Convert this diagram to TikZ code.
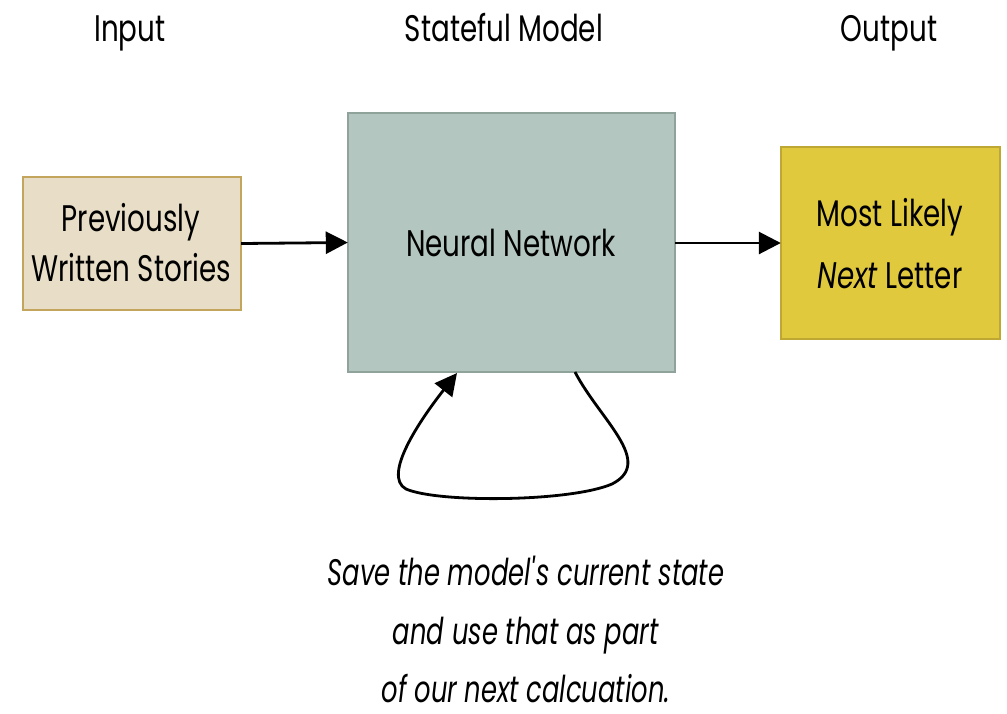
\documentclass[tikz,border=0pt]{standalone}
\usepackage{fontspec}
\usepackage{graphicx}
\setmainfont{Poppins}[FakeStretch=0.75]
\usetikzlibrary{arrows.meta}
\definecolor{inFill}{HTML}{E8DEC7}
\definecolor{inLine}{HTML}{C3A65C}
\definecolor{nnFill}{HTML}{B3C7C0}
\definecolor{nnLine}{HTML}{8FA39B}
\definecolor{outFill}{HTML}{E1C93E}
\definecolor{outLine}{HTML}{BFA734}
\newcommand{\noteline}[1]{\scalebox{0.93}[1]{\textit{#1}}}
\begin{document}
\begin{tikzpicture}[x=1pt,y=-1pt,
  lbl/.style={font=\fontsize{37}{50}\selectfont, align=center, inner sep=0pt},
  flow/.style={line width=2.8pt, -{Triangle[length=22pt,width=22pt]}},
  box/.style={line width=2pt, inner sep=0pt}]
\useasboundingbox (0,0) rectangle (1007,713);
% boxes
\path[box, fill=inFill, draw=inLine] (23,177) rectangle (241,310);
\path[box, fill=nnFill, draw=nnLine] (348,113) rectangle (675,372);
\path[box, fill=outFill, draw=outLine] (781,147) rectangle (1000,339);
\node (inp) [minimum width=218pt, minimum height=133pt, inner sep=0pt] at (132,243.5) {};
\node (nn) [minimum width=327pt, minimum height=259pt, inner sep=0pt] at (511.5,242.5) {};
\node (out) [minimum width=219pt, minimum height=192pt, inner sep=0pt] at (890.5,243) {};
% texts
\node[lbl, anchor=base] at (131,231) {Previously};
\node[lbl, anchor=base] at (131,281) {Written Stories};
\node[lbl, anchor=base] at (511,256) {Neural Network};
\node[lbl, anchor=base] at (890,226) {Most Likely};
\node[lbl, anchor=base] at (890,288) {\textit{Next} Letter};
\node[lbl, anchor=base] at (130,41) {Input};
\node[lbl, anchor=base] at (504,41) {Stateful Model};
\node[lbl, anchor=base] at (889,41) {Output};
\node[lbl, anchor=base] at (526,585) {\noteline{Save the model\textquotesingle s current state}};
\node[lbl, anchor=base] at (526,644) {\noteline{and use that as part}};
\node[lbl, anchor=base] at (526,702) {\noteline{of our next calcuation.}};
% connectors
\draw[flow] (inp.east) -- (nn.west);
\draw[flow] (nn.east |- 0,243) -- (out.west |- 0,243);
\coordinate (loopA) at (575,372);
\coordinate (loopB) at (457,373);
\draw[flow] (loopA) .. controls (600,420) and (655,462) .. (612,484)
  .. controls (570,502) and (438,503) .. (406,489)
  .. controls (382,476) and (420,420) .. (loopB);
\end{tikzpicture}
\end{document}
